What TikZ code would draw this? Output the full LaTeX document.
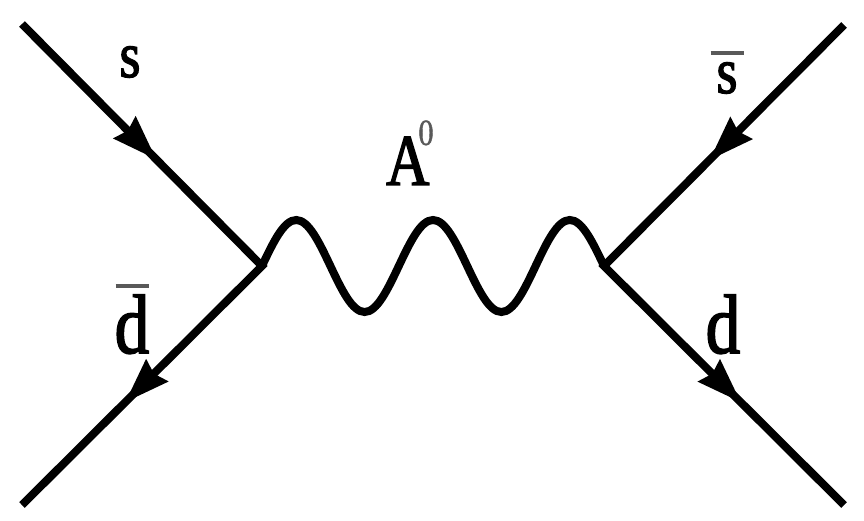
\documentclass[tikz,border=0pt]{standalone}
\usepackage{fontspec}
\newfontfamily\lblfont[FakeStretch=0.82, FakeBold=2]{Liberation Serif}
\newfontfamily\supfont[FakeStretch=0.82, FakeBold=1]{Liberation Serif}
\usepackage{xcolor}
\usetikzlibrary{arrows.meta, decorations.markings}
\definecolor{barcol}{gray}{0.35}
\newcommand{\antiq}[1]{\sbox0{#1}\vbox{\offinterlineskip\hbox to \wd0{\hss{\color{barcol}\vrule width 33pt height 4pt depth 0pt}\hss}\kern7pt\box0}}

\begin{document}
\begin{tikzpicture}[
  x=1pt, y=-1pt,
  fmline/.style={line width=8pt, line join=miter, postaction={decorate},
    decoration={markings,
      mark=at position 0.28 with {\arrow{Stealth[length=45pt, width=32pt, inset=5pt, line width=0pt]}},
      mark=at position 0.785 with {\arrow{Stealth[length=45pt, width=32pt, inset=5pt, line width=0pt]}}}},
  bosonline/.style={line width=8pt},
  fmlbl/.style={inner sep=0pt, anchor=base, font=\lblfont\fontsize{#1}{#1}\selectfont}
]
\useasboundingbox (0,0) rectangle (864,521);

% ---------------------------------------------- vertices and line ends
\coordinate (vtxL) at (262,266);
\coordinate (vtxR) at (604,266);
\coordinate (sin) at (22,24);
\coordinate (dbarout) at (22,505);
\coordinate (sbarin) at (844,25);
\coordinate (dout) at (844,505);

% ---------------------------------------------- fermion lines
\draw[fmline] (sin) -- (vtxL) -- (dbarout);
\draw[fmline] (sbarin) -- (vtxR) -- (dout);

% ---------------------------------------------- the boson
\draw[bosonline] (vtxL) sin ++(34.2,-46) cos ++(34.2,46) sin ++(34.2,46)
  cos ++(34.2,-46) sin ++(34.2,-46) cos ++(34.2,46) sin ++(34.2,46)
  cos ++(34.2,-46) sin ++(34.2,-46) cos (vtxR);

% ---------------------------------------------- labels
\node[fmlbl=65pt] (slbl) at (130,77) {s};
\node[fmlbl=84pt] (dbarlbl) at (132,353) {\antiq{d}};
\node[fmlbl=65pt] (sbarlbl) at (727,93) {\antiq{s}};
\node[fmlbl=84pt] (dlbl) at (723,353) {d};
\node[fmlbl=73pt, anchor=base west] (alabel) at (386,185)
  {A\kern-11pt\raisebox{40pt}{\supfont\fontsize{37pt}{37pt}\selectfont\color{barcol}0}};

\end{tikzpicture}
\end{document}
